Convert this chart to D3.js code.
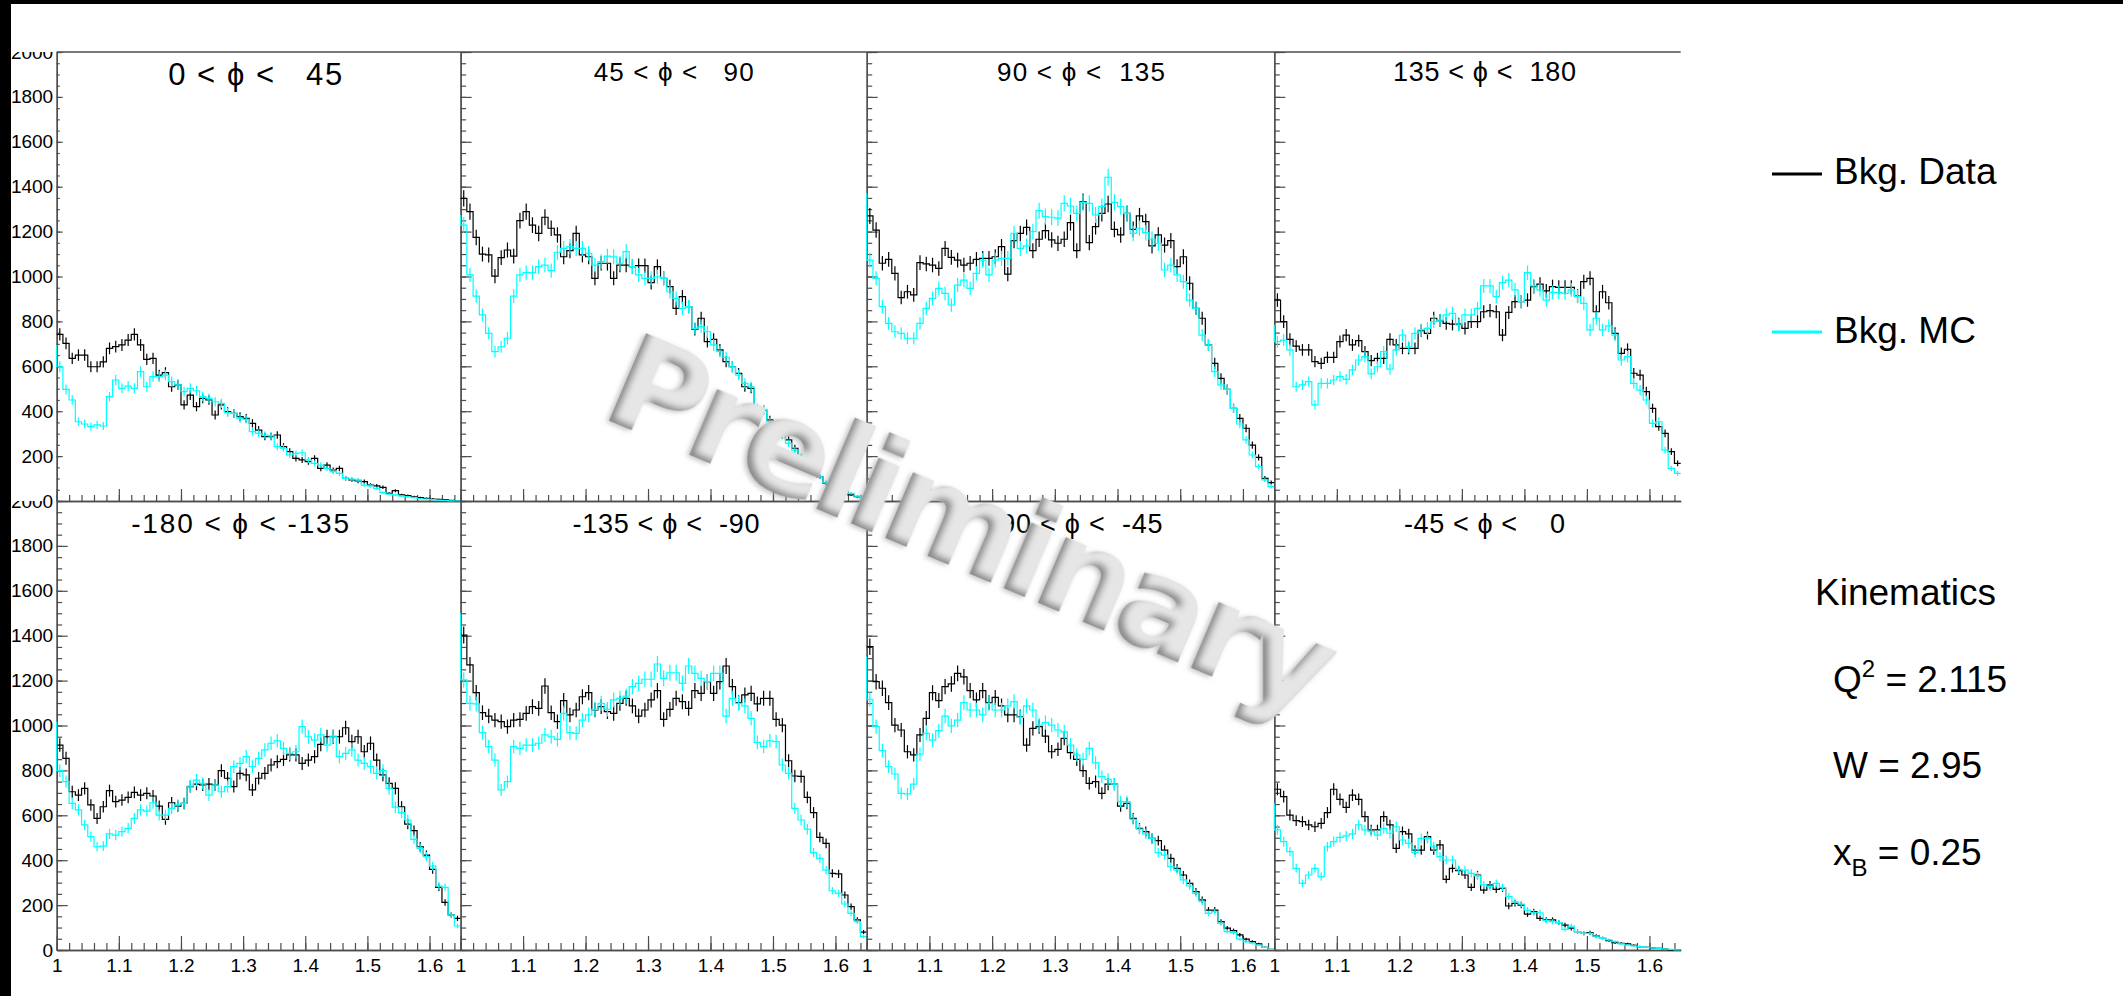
<!DOCTYPE html>
<html>
<head>
<meta charset="utf-8">
<script src="https://cdn.jsdelivr.net/npm/d3@7"></script>
<style>
  html, body { margin: 0; padding: 0; background: #fff; }
  svg { display: block; }
  text { font-family: "Liberation Sans", Arial, Helvetica, sans-serif; }
</style>
</head>
<body>
<div id="chart"></div>
<script>
// 65 bins of 0.01 between 1.00 and 1.65, y range 0..2000
const xMin = 1.0;
const xMax = 1.65;
const binWidth = 0.01;
const yMax = 2000;

const xMajorTicks = [1, 1.1, 1.2, 1.3, 1.4, 1.5, 1.6];
const yMajorTicks = [0, 200, 400, 600, 800, 1000, 1200, 1400, 1600, 1800, 2000];

const phiTitles = [
  '0 < \u03D5 <   45', '45 < \u03D5 <   90', '90 < \u03D5 <  135', '135 < \u03D5 <  180',
  '-180 < \u03D5 < -135', '-135 < \u03D5 <  -90', '-90 < \u03D5 <  -45', '-45 < \u03D5 <    0'
];

const legendLabels = ['Bkg. Data', 'Bkg. MC'];
const kinematics = { q2: '2.115', w: '2.95', xb: '0.25' };

// Bkg. Data, one array per phi bin
const data0to45 = [742,702,635,650,650,598,598,620,680,688, 695,717,742,695,631,635,561,572,509,517, 428,472,420,457,450,383,428,398,390,376, 368,346,316,287,287,294,242,220,190,183, 175,190,145,160,138,145,101,94,89,86, 71,67,61,34,46,27,24,19,15,12, 9,7,6,3,1];
const data45to90 = [1348,1289,1174,1100,1096,1002,1084,1118,1091,1249, 1289,1229,1192,1264,1215,1185,1088,1115,1192,1096, 1088,992,1059,1059,992,1051,1051,1044,1048,1048, 973,1044,992,955,858,910,866,765,814,710, 720,673,621,598,569,509,502,390,405,361, 309,294,272,235,190,168,153,108,79,64, 49,42,27,19,12];
const data90to135 = [1270,1207,1059,1076,1014,906,932,918,1062,1056, 1051,1036,1125,1085,1073,1051,1059,1076,1081,1081, 1088,1133,1011,1160,1192,1219,1115,1166,1204,1163, 1148,1166,1240,1115,1333,1151,1222,1281,1323,1210, 1185,1281,1210,1270,1244,1136,1185,1140,1160,1044, 1088,970,858,814,695,613,546,497,413,368, 324,249,194,101,82];
const data135to180 = [895,799,720,690,673,673,621,613,640,640, 710,739,695,714,665,625,635,635,720,695, 680,680,680,759,747,814,803,791,788,788, 769,799,799,843,848,843,739,840,888,888, 895,955,966,936,955,952,952,952,913,977, 992,843,932,883,747,658,676,569,561,487, 413,331,301,220,168];
const dataM180toM135 = [913,854,705,690,720,646,586,638,710,661, 668,680,702,690,698,686,641,582,656,641, 653,728,739,735,739,735,799,765,728,787, 780,713,765,787,824,839,849,869,869,831, 846,861,916,950,950,950,990,928,950,883, 921,846,780,742,720,638,561,532,460,423, 359,279,212,156,141];
const dataM135toM90 = [1403,1270,1146,1057,1042,1024,1017,995,1024,1027, 1054,1084,1076,1176,1057,1017,1111,1047,1069,1128, 1146,1069,1084,1062,1054,1099,1121,1087,1042,1069, 1114,1155,1027,1072,1121,1106,1076,1155,1143,1195, 1143,1195,1265,1173,1102,1136,1143,1096,1121,1121, 1027,1002,843,775,773,680,612,502,475,341, 339,245,193,134,80];
const dataM90toM45 = [1351,1195,1166,1102,1002,980,883,869,958,1032, 1146,1111,1173,1185,1232,1217,1155,1114,1155,1102, 1125,1087,1047,1047,1039,913,987,995,953,883, 894,943,879,849,799,742,750,698,739,739, 641,653,586,542,527,497,487,445,408,364, 334,297,260,223,178,178,126,97,86,67, 48,37,27,12,3];
const dataM45to0 = [716,683,601,576,572,557,549,564,612,716, 671,635,690,671,594,535,535,594,557,453, 527,517,445,445,505,445,468,315,364,353, 334,279,334,267,290,270,275,196,208,200, 160,171,141,134,134,122,111,97,82,74, 77,62,52,42,33,30,27,21,15,12, 9,7,4,1,1];

// Bkg. MC, one array per phi bin
const mc0to45 = [598,497,450,353,343,331,339,334,465,539, 502,512,502,576,509,554,554,561,532,517, 487,502,491,465,457,442,435,394,390,368, 364,309,301,294,290,242,235,205,212,215, 183,168,160,145,131,123,101,97,94,71, 67,56,37,31,27,22,19,15,10,9, 6,4,3,1,1];
const mc45to90 = [1229,1007,913,829,747,665,687,725,913,1007, 1017,1017,1044,1051,1026,1108,1125,1133,1125,1125, 1103,1051,1066,1091,1088,1059,1111,1044,1007,992, 992,999,992,932,903,858,866,769,777,754, 695,665,640,598,561,524,509,413,408,353, 316,294,257,227,197,165,145,108,82,64, 49,46,34,22,12];
const mc90to135 = [1073,992,866,791,754,747,725,725,791,858, 903,947,925,873,962,984,947,1014,1073,1007, 1073,1081,1081,1192,1125,1136,1200,1293,1267,1264, 1260,1326,1314,1281,1329,1326,1274,1311,1442,1330, 1311,1281,1192,1215,1195,1166,1148,1029,1051,1007, 977,895,858,739,695,576,517,497,413,343, 272,205,153,94,64];
const mc135to180 = [710,717,673,509,517,532,428,524,524,539, 554,542,584,628,643,566,598,665,587,673, 739,687,747,762,769,799,806,829,836,784, 829,829,858,958,958,910,973,984,940,888, 1017,958,940,895,929,929,925,940,910,880, 762,814,762,780,739,628,643,524,494,450, 346,353,227,145,123];
const mcM180toM135 = [799,750,653,624,557,505,460,463,517,512, 527,542,586,624,619,656,601,601,631,646, 653,730,757,742,690,735,705,728,817,831, 861,817,854,891,921,932,898,876,883,995, 950,935,958,913,953,861,876,891,846,831, 817,787,799,720,636,612,579,493,453,416, 374,285,279,156,107];
const mcM135toM90 = [1203,1099,1096,968,906,846,713,750,906,898, 913,913,921,958,950,938,1054,968,965,1024, 1047,1072,1099,1072,1114,1121,1131,1173,1188,1206, 1206,1274,1210,1235,1235,1188,1265,1232,1210,1195, 1232,1232,1042,1121,1099,1087,1032,925,906,932, 928,824,787,631,579,538,434,408,356,264, 252,205,163,126,60];
const mcM90toM45 = [1117,995,888,817,784,698,695,739,873,965, 935,977,1042,998,1024,1102,1069,1069,1047,1099, 1069,1069,1087,1106,1036,1087,1069,1002,1013,1002, 980,972,913,869,849,898,834,772,760,739, 661,661,582,538,517,497,434,423,371,356, 312,285,252,215,163,171,119,82,77,48, 37,30,22,12,3];
const mcM45to0 = [535,483,438,364,297,334,364,327,460,483, 502,508,517,557,535,527,512,542,520,549, 490,475,434,497,497,460,416,401,401,359, 356,341,330,290,282,297,279,238,215,205, 178,166,166,131,126,122,92,107,82,74, 74,59,52,45,37,27,22,18,15,12, 9,7,4,3,1];

// value where the MC outline starts at the left edge of each pad
const mcLeadIn = [695, 1274, 1370, 784, 1017, 1500, 1307, 653];

const dataSeries = [data0to45, data45to90, data90to135, data135to180,
                    dataM180toM135, dataM135toM90, dataM90toM45, dataM45to0];
const mcSeries = [mc0to45, mc45to90, mc90to135, mc135to180,
                  mcM180toM135, mcM135toM90, mcM90toM45, mcM45to0];

// layout
const width = 2123;
const height = 996;
const colEdges = [56.7, 460.6, 866.7, 1274.3, 1680.7];
const rowEdges = [52, 501, 950];
const axisColor = '#4d4d4d';
const mcColor = '#00ffff';
const labelSize = 19;

// title placement: [x offset from pad centre, font size, width, baseline]
const titleLayout = [
  [-3.5, 31, 174, 85], [10, 26, 160, 81], [10.5, 26, 168, 81], [7, 27, 183, 81],
  [-18.5, 28, 218, 533], [2.4, 27, 187, 533], [6, 27, 172, 533], [7, 27, 161, 533]
];

let svg = d3.select('#chart')
            .append('svg')
            .attr('width', width)
            .attr('height', height);

svg.append('rect').attr('width', width).attr('height', height).attr('fill', '#fff');
svg.append('rect').attr('width', width).attr('height', 4).attr('fill', '#000');
svg.append('rect').attr('width', 11).attr('height', height).attr('fill', '#000');

let defs = svg.append('defs');
// each row of pads clips its own labels
defs.append('clipPath').attr('id', 'row-0')
    .append('rect').attr('x', 0).attr('y', rowEdges[0]).attr('width', width).attr('height', rowEdges[1] - rowEdges[0]);
defs.append('clipPath').attr('id', 'row-1')
    .append('rect').attr('x', 0).attr('y', rowEdges[1]).attr('width', width).attr('height', height - rowEdges[1]);

// top frame line of the upper row
svg.append('line')
   .attr('x1', colEdges[0]).attr('x2', colEdges[4])
   .attr('y1', rowEdges[0]).attr('y2', rowEdges[0])
   .attr('stroke', axisColor).attr('stroke-width', 1.3);

function styleAxis(g, fontSize) {
  g.attr('font-family', null).attr('font-size', null);
  g.select('.domain').attr('stroke', axisColor).attr('stroke-width', 1.3);
  g.selectAll('.tick line').attr('stroke', axisColor).attr('stroke-width', 1.2);
  g.selectAll('.tick text')
   .attr('fill', '#000')
   .attr('font-size', fontSize)
   .style('font-family', '"Liberation Sans", Arial, sans-serif');
}

function drawPanel(index) {
  let col = index % 4;
  let row = Math.floor(index / 4);

  let x = d3.scaleLinear().domain([xMin, xMax]).range([colEdges[col], colEdges[col + 1]]);
  let y = d3.scaleLinear().domain([0, yMax]).range([rowEdges[row + 1], rowEdges[row]]);

  let pad = svg.append('g').attr('class', `pad pad-${index}`);

  // x axis: minor every 0.02, major every 0.1, ticks pointing up
  let xLong = row === 0 ? 12 : 14;
  let xMinor = d3.range(0, 33).map(k => +(xMin + k * 0.02).toFixed(2));
  pad.append('g')
     .attr('transform', `translate(0, ${rowEdges[row + 1]})`)
     .call(d3.axisBottom(x).tickValues(xMinor).tickSizeInner(-xLong / 2).tickSizeOuter(0).tickFormat(() => ''))
     .call(g => styleAxis(g, labelSize));
  pad.append('g')
     .attr('transform', `translate(0, ${rowEdges[row + 1]})`)
     .call(d3.axisBottom(x).tickValues(xMajorTicks).tickSizeInner(-xLong).tickSizeOuter(0).tickPadding(8.5)
             .tickFormat(row === 1 ? d3.format('~g') : () => ''))
     .call(g => styleAxis(g, labelSize));

  // y axis: minor every 50, major every 200, labels only on the first column
  let yLong = (row === 0 && col === 0) ? 6 : 11;
  let yMinor = d3.range(0, yMax + 1, 50);
  pad.append('g')
     .attr('transform', `translate(${colEdges[col]}, 0)`)
     .call(d3.axisLeft(y).tickValues(yMinor).tickSizeInner(-yLong / 2).tickSizeOuter(0).tickFormat(() => ''))
     .call(g => styleAxis(g, labelSize));
  // the clip lives on an untranslated wrapper so it stays in page coordinates
  pad.append('g')
     .attr('clip-path', `url(#row-${row})`)
     .append('g')
     .attr('transform', `translate(${colEdges[col]}, 0)`)
     .call(d3.axisLeft(y).tickValues(yMajorTicks).tickSizeInner(-yLong).tickSizeOuter(0).tickPadding(3.5)
             .tickFormat(col === 0 ? d3.format('d') : () => ''))
     .call(g => styleAxis(g, labelSize));

  // histograms: step outline plus sqrt(N) error bars
  function drawHist(values, color, leadIn) {
    let pts = [];
    if (leadIn !== undefined) pts.push([x(xMin), y(leadIn)]);
    values.forEach((v, k) => {
      let lo = xMin + k * binWidth;
      pts.push([x(lo), y(v)], [x(lo + binWidth), y(v)]);
    });
    let h = pad.append('g').attr('class', 'hist');
    h.append('path')
     .attr('d', d3.line()(pts))
     .attr('fill', 'none')
     .attr('stroke', color)
     .attr('stroke-width', 1.2);
    h.selectAll('line')
     .data(values)
     .enter().append('line')
     .attr('x1', (v, k) => x(xMin + (k + 0.5) * binWidth))
     .attr('x2', (v, k) => x(xMin + (k + 0.5) * binWidth))
     .attr('y1', v => y(Math.max(0, v - Math.sqrt(v))))
     .attr('y2', v => y(v + Math.sqrt(v)))
     .attr('stroke', color)
     .attr('stroke-width', 1.2);
  }

  drawHist(dataSeries[index], '#000');
  drawHist(mcSeries[index], mcColor, mcLeadIn[index]);

  // pad title
  let [dx, fs, tw, base] = titleLayout[index];
  pad.append('text')
     .attr('x', (colEdges[col] + colEdges[col + 1]) / 2 + dx)
     .attr('y', base)
     .attr('text-anchor', 'middle')
     .attr('font-size', fs)
     .attr('textLength', tw)
     .attr('lengthAdjust', 'spacing')
     .style('white-space', 'pre')
     .text(phiTitles[index]);
}

d3.range(8).forEach(drawPanel);

// legend
let legend = svg.append('g').attr('class', 'legend');
[[legendLabels[0], '#000', 174, 184], [legendLabels[1], mcColor, 332, 343]].forEach(([label, color, ly, ty]) => {
  legend.append('line')
        .attr('x1', 1772).attr('x2', 1822)
        .attr('y1', ly).attr('y2', ly)
        .attr('stroke', color).attr('stroke-width', 3);
  legend.append('text')
        .attr('x', 1834).attr('y', ty)
        .attr('font-size', 37)
        .text(label);
});

// kinematics box
let kin = svg.append('g').attr('class', 'kinematics').attr('font-size', 37);
kin.append('text').attr('x', 1815).attr('y', 605).text('Kinematics');

let q2 = kin.append('text').attr('x', 1833).attr('y', 692);
q2.append('tspan').text('Q');
q2.append('tspan').attr('font-size', 24).attr('dy', -15).text('2');
q2.append('tspan').attr('dy', 15).style('white-space', 'pre').text(' = ' + kinematics.q2);

kin.append('text').attr('x', 1833).attr('y', 778).text('W = ' + kinematics.w);

let xb = kin.append('text').attr('x', 1833).attr('y', 865);
xb.append('tspan').text('x');
xb.append('tspan').attr('font-size', 24).attr('dy', 11).text('B');
xb.append('tspan').attr('dy', -11).style('white-space', 'pre').text(' = ' + kinematics.xb);

// "Preliminary" watermark, embossed grey, drawn on top of everything
let emboss = defs.append('filter')
                 .attr('id', 'emboss')
                 .attr('x', '-5%').attr('y', '-20%')
                 .attr('width', '110%').attr('height', '140%');
emboss.append('feOffset').attr('in', 'SourceAlpha').attr('dx', 5).attr('dy', -5).attr('result', 'shifted');
emboss.append('feGaussianBlur').attr('in', 'shifted').attr('stdDeviation', 3).attr('result', 'shiftedBlur');
emboss.append('feComposite').attr('in', 'SourceAlpha').attr('in2', 'shiftedBlur').attr('operator', 'out').attr('result', 'edge');
emboss.append('feFlood').attr('flood-color', '#8c8c8c').attr('result', 'grey');
emboss.append('feComposite').attr('in', 'grey').attr('in2', 'edge').attr('operator', 'in').attr('result', 'innerShade');
emboss.append('feGaussianBlur').attr('in', 'SourceAlpha').attr('stdDeviation', 2.5).attr('result', 'outerBlur');
emboss.append('feOffset').attr('in', 'outerBlur').attr('dx', -2).attr('dy', 2).attr('result', 'outerOff');
emboss.append('feFlood').attr('flood-color', '#9a9a9a').attr('flood-opacity', 0.6).attr('result', 'grey2');
emboss.append('feComposite').attr('in', 'grey2').attr('in2', 'outerOff').attr('operator', 'in').attr('result', 'outerShade');
let merge = emboss.append('feMerge');
merge.append('feMergeNode').attr('in', 'outerShade');
merge.append('feMergeNode').attr('in', 'SourceGraphic');
merge.append('feMergeNode').attr('in', 'innerShade');

svg.append('text')
   .attr('transform', 'translate(598, 416) rotate(23)')
   .attr('font-size', 130)
   .attr('font-weight', 'bold')
   .attr('textLength', 775)
   .attr('lengthAdjust', 'spacing')
   .attr('fill', '#e6e6e6')
   .attr('filter', 'url(#emboss)')
   .style('font-family', '"DejaVu Sans", sans-serif')
   .text('Preliminary');
</script>
</body>
</html>
